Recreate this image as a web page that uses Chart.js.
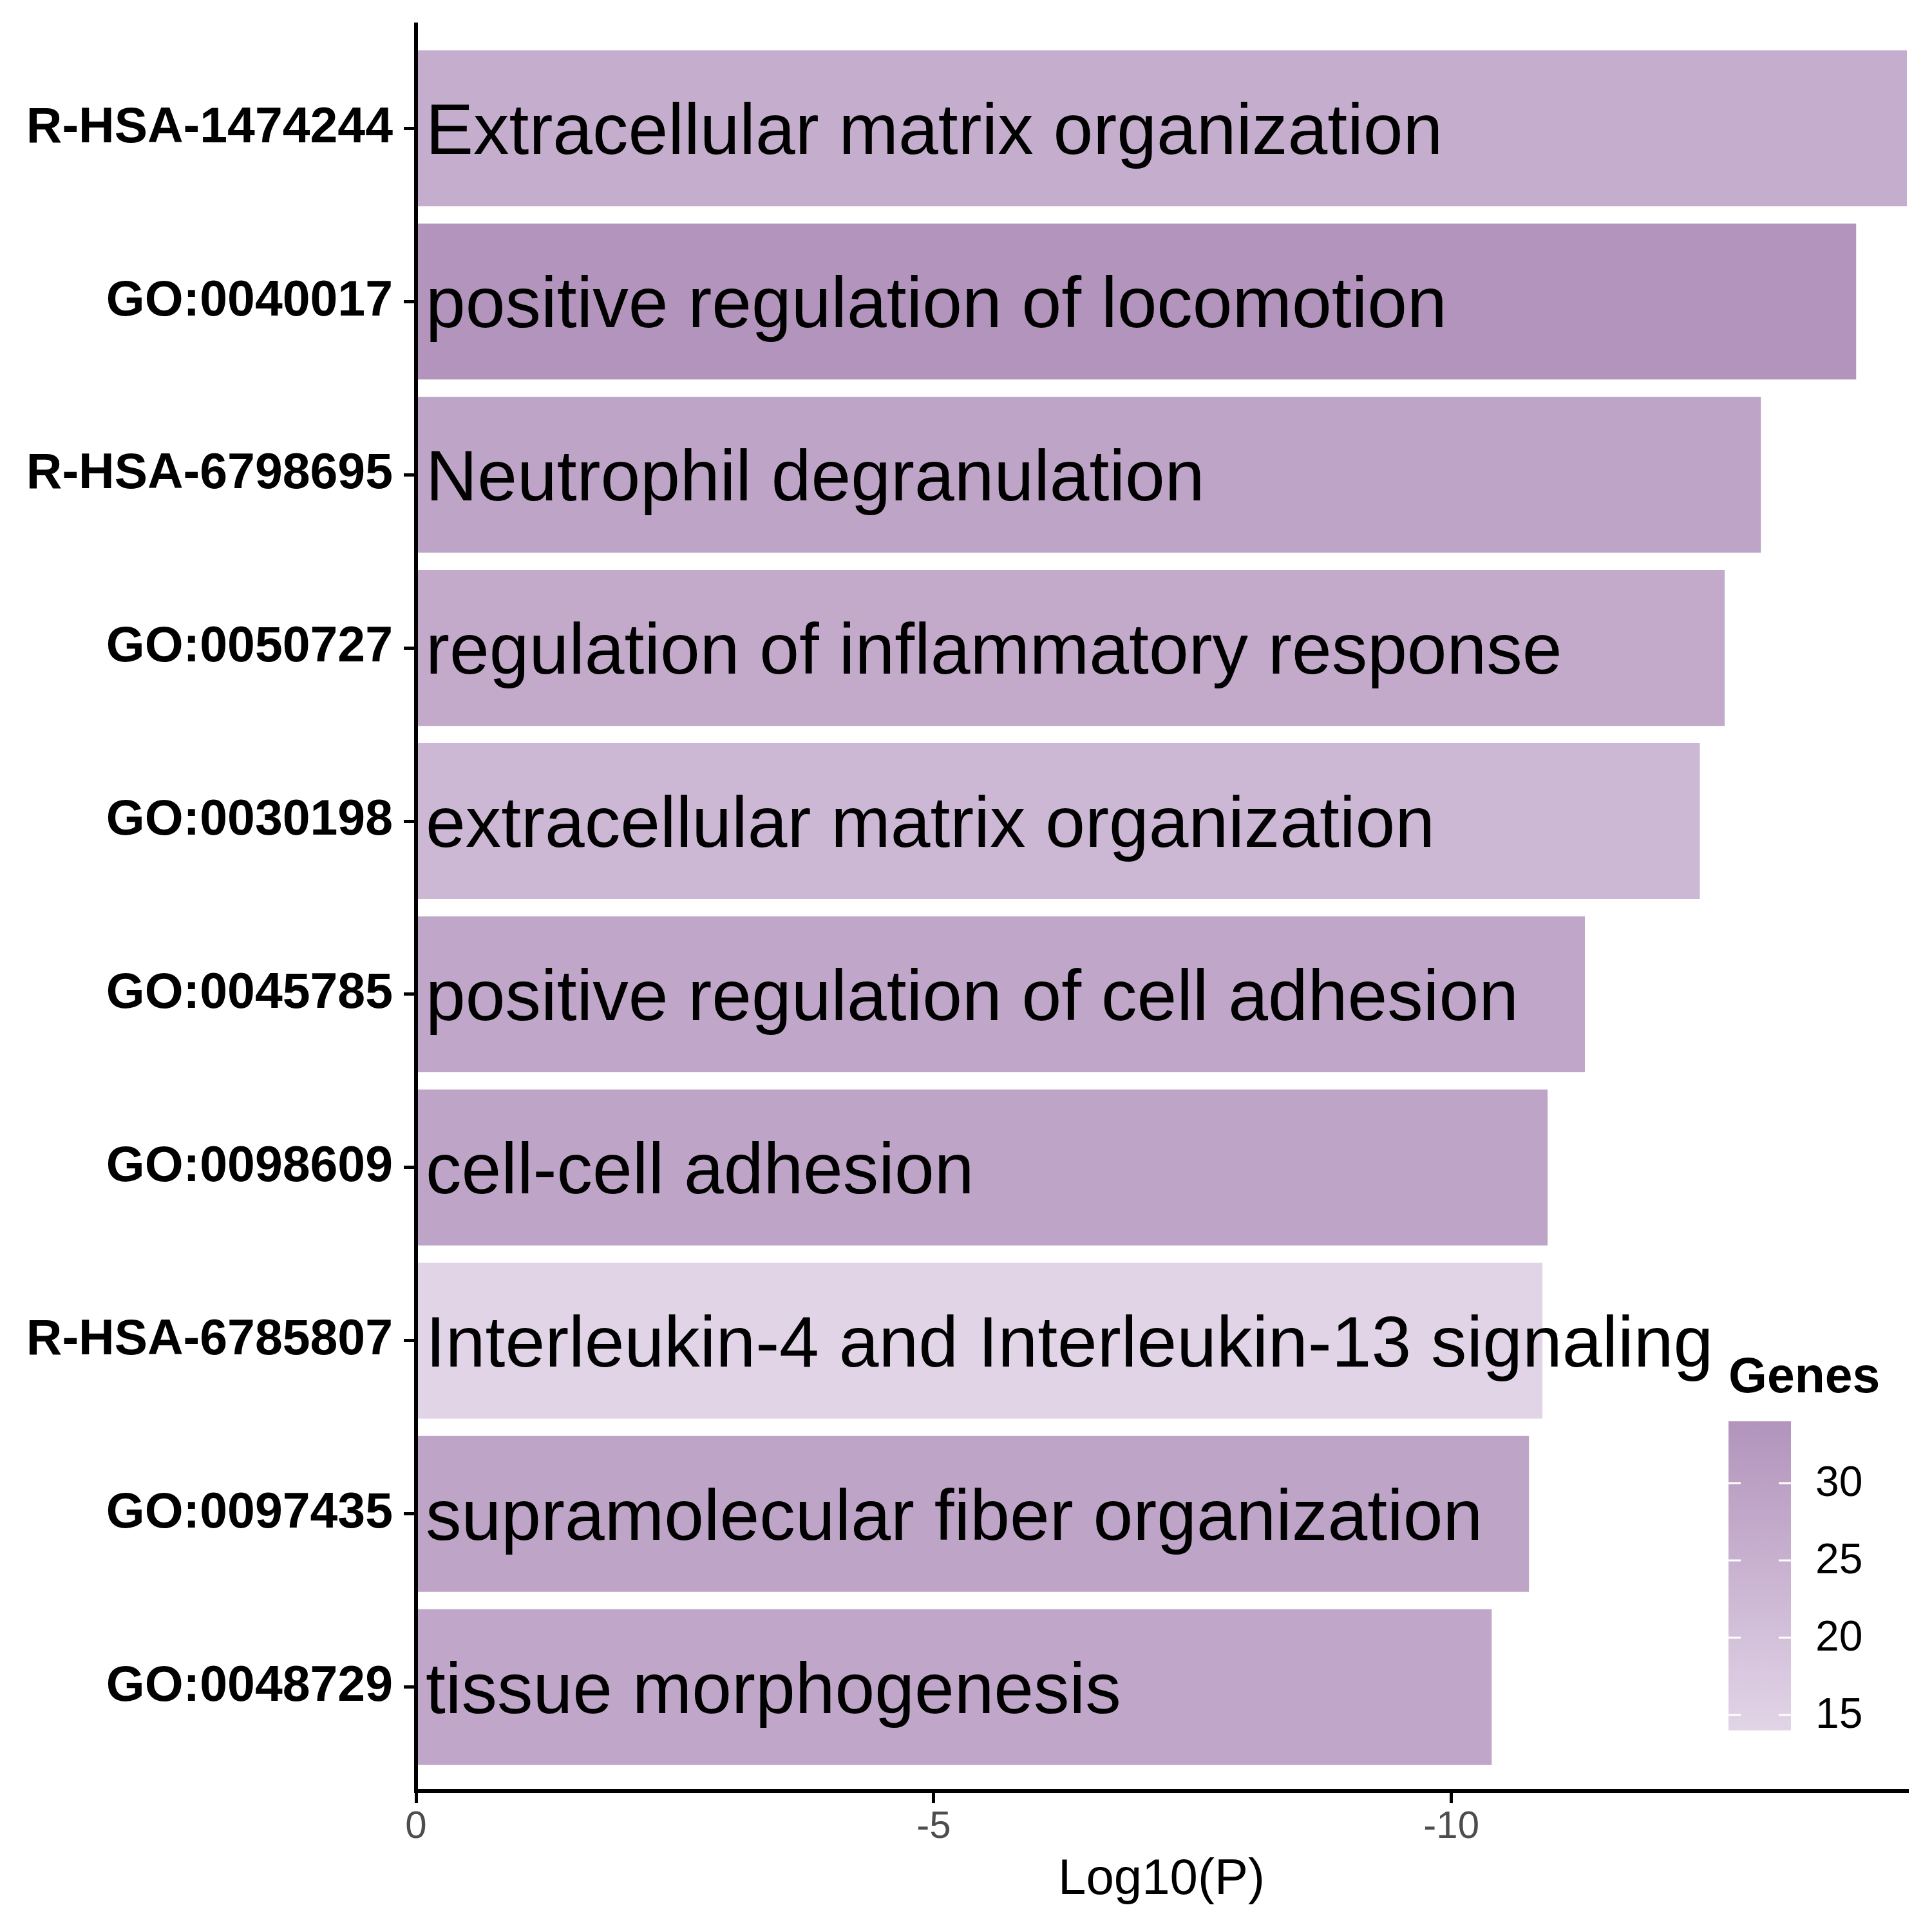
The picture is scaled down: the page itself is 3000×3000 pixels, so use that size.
<!DOCTYPE html>
<html>
<head>
<meta charset="utf-8">
<script src="https://cdn.jsdelivr.net/npm/chart.js@4.4.1/dist/chart.umd.min.js"></script>
<style>
  html, body { margin: 0; padding: 0; background: #ffffff; }
  canvas { display: block; }
</style>
</head>
<body>
<canvas id="c" width="3000" height="3000"></canvas>
<script>
// ---- data ----
const termIds = ['R-HSA-1474244','GO:0040017','R-HSA-6798695','GO:0050727','GO:0030198',
                 'GO:0045785','GO:0098609','R-HSA-6785807','GO:0097435','GO:0048729'];
const termNames = ['Extracellular matrix organization','positive regulation of locomotion',
                   'Neutrophil degranulation','regulation of inflammatory response',
                   'extracellular matrix organization','positive regulation of cell adhesion',
                   'cell-cell adhesion','Interleukin-4 and Interleukin-13 signaling',
                   'supramolecular fiber organization','tissue morphogenesis'];
const logP = [-14.40, -13.91, -12.99, -12.64, -12.40, -11.29, -10.93, -10.88, -10.75, -10.39];
const genes = [26, 34, 29, 27, 23, 28, 29, 14, 29, 28];
const xTickValues = [0, -5, -10];
const legendTicks = [15, 20, 25, 30];

// ---- style ----
const LOW_COLOR = [226, 212, 231];
const HIGH_COLOR = [178, 148, 188];
const FONT = '"Liberation Sans", Arial, sans-serif';
const gMin = Math.min(...genes), gMax = Math.max(...genes);

function colorFor(g) {
  const t = (g - gMin) / (gMax - gMin);
  const c = LOW_COLOR.map((lo, k) => Math.round(lo + (HIGH_COLOR[k] - lo) * t));
  return `rgb(${c[0]},${c[1]},${c[2]})`;
}

const barLabelPlugin = {
  id: 'barLabels',
  afterDatasetsDraw(chart) {
    const ctx = chart.ctx;
    const xs = chart.scales.x;
    const meta = chart.getDatasetMeta(0);
    ctx.save();
    ctx.font = `111px ${FONT}`;
    ctx.fillStyle = '#000000';
    ctx.textAlign = 'left';
    ctx.textBaseline = 'alphabetic';
    meta.data.forEach((bar, i) => {
      ctx.fillText(termNames[i], xs.getPixelForValue(0) + 15, bar.y + 40);
    });
    ctx.restore();
  }
};

const colorbarPlugin = {
  id: 'colorbar',
  afterDraw(chart) {
    const ctx = chart.ctx;
    const left = 2684, top = 2207, w = 97, h = 480;
    const bottom = top + h;
    const valToY = v => bottom - (v - gMin) / (gMax - gMin) * h;
    ctx.save();
    ctx.font = `bold 77px ${FONT}`;
    ctx.fillStyle = '#000000';
    ctx.textAlign = 'left';
    ctx.textBaseline = 'alphabetic';
    ctx.fillText('Genes', 2684, 2162);
    const grad = ctx.createLinearGradient(0, top, 0, bottom);
    grad.addColorStop(0, colorFor(gMax));
    grad.addColorStop(1, colorFor(gMin));
    ctx.fillStyle = grad;
    ctx.fillRect(left, top, w, h);
    ctx.strokeStyle = '#ffffff';
    ctx.lineWidth = 3;
    ctx.font = `66px ${FONT}`;
    ctx.fillStyle = '#000000';
    ctx.textBaseline = 'middle';
    legendTicks.forEach(v => {
      const y = valToY(v);
      ctx.beginPath();
      ctx.moveTo(left, y); ctx.lineTo(left + 19, y);
      ctx.moveTo(left + w - 19, y); ctx.lineTo(left + w, y);
      ctx.stroke();
      ctx.fillText(String(v), 2819, y + 2);
    });
    ctx.restore();
  }
};

new Chart(document.getElementById('c'), {
  type: 'bar',
  data: {
    datasets: [{
      data: logP.map((v, i) => ({ x: v, y: i })),
      backgroundColor: genes.map(colorFor),
      borderWidth: 0,
      categoryPercentage: 0.9,
      barPercentage: 1.0
    }]
  },
  options: {
    indexAxis: 'y',
    responsive: false,
    animation: false,
    devicePixelRatio: 1,
    layout: { padding: { top: 38, right: 39, bottom: 0, left: 0 } },
    plugins: { legend: { display: false }, tooltip: { enabled: false } },
    scales: {
      x: {
        type: 'linear',
        position: 'bottom',
        min: Math.min(...logP),
        max: 0,
        reverse: true,
        offset: false,
        afterBuildTicks: s => { s.ticks = xTickValues.map(v => ({ value: v })); },
        afterFit: s => { s.height = 219; },
        grid: { display: true, offset: false, drawOnChartArea: false, drawTicks: true, tickLength: 19,
                color: '#000000', lineWidth: 5 },
        border: { display: true, color: '#000000', width: 6, z: 1 },
        ticks: { autoSkip: false, maxRotation: 0, padding: 1, color: '#4d4d4d',
                 font: { family: FONT, size: 60 },
                 callback: v => String(v) },
        title: { display: true, text: 'Log10(P)', color: '#000000',
                 font: { family: FONT, size: 78 }, padding: { top: 0, bottom: 34 } }
      },
      y: {
        type: 'linear',
        position: 'left',
        min: -0.6,
        max: termIds.length - 0.4,
        reverse: true,
        offset: false,
        afterBuildTicks: s => { s.ticks = termIds.map((_, i) => ({ value: i })); },
        afterFit: s => { s.width = 646; s.paddingTop = 0; s.paddingBottom = 0; },
        grid: { display: true, offset: false, drawOnChartArea: false, drawTicks: true, tickLength: 19,
                color: '#000000', lineWidth: 5 },
        border: { display: true, color: '#000000', width: 6, z: 1 },
        ticks: { autoSkip: false, padding: 17, color: '#000000',
                 font: { family: FONT, size: 77, weight: 'bold' },
                 callback: v => termIds[v] }
      }
    }
  },
  plugins: [barLabelPlugin, colorbarPlugin]
});
</script>
</body>
</html>
